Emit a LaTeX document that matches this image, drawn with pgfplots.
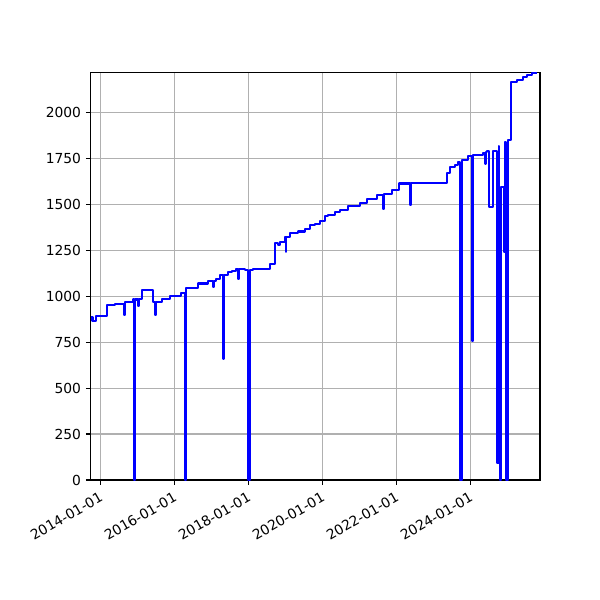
\documentclass[border=0pt]{standalone}
\usepackage{fontspec}
\setmainfont{DejaVu Sans}
\usepackage{pgfplots}
\pgfplotsset{compat=1.18}

\begin{document}
\begin{tikzpicture}
\begin{axis}[
    at={(0,0)}, anchor=south west,
    scale only axis,
    width=4.493in, height=4.077in,
    xmin=2013.74, xmax=2025.88,
    ymin=0, ymax=2218,
    xtick={2014,2016,2018,2020,2022,2024},
    xticklabels={2014-01-01,2016-01-01,2018-01-01,2020-01-01,2022-01-01,2024-01-01},
    ytick={0,250,500,750,1000,1250,1500,1750,2000},
    yticklabels={0,250,500,750,1000,1250,1500,1750,2000},
    xticklabel style={rotate=30, anchor=north east, font=\fontsize{10}{12}\selectfont},
    yticklabel style={font=\fontsize{10}{12}\selectfont},
    tick align=outside, tick pos=left,
    major tick length=3.5pt,
    every tick/.style={black, line width=0.8pt},
    axis line style={line width=0.8pt},
    grid=major,
    major grid style={color=black!31, line width=0.8pt},
    /pgf/number format/assume math mode=true,
]
\addplot[const plot mark left, color=blue, line width=1.5pt, line join=round, mark=none]
coordinates {
(2013.749,885) (2013.789,866) (2013.884,891) (2014.173,950) (2014.397,955)
(2014.649,897) (2014.668,969) (2014.876,982) (2014.911,0) (2014.946,982)
(2015.027,947) (2015.046,987) (2015.119,1036) (2015.416,969) (2015.478,897)
(2015.497,969) (2015.659,983) (2015.884,1002) (2016.181,1015) (2016.276,0)
(2016.322,1047) (2016.649,1069) (2016.919,1083) (2017.054,1051) (2017.073,1083)
(2017.127,1096) (2017.235,1114) (2017.324,661) (2017.343,1114) (2017.443,1133)
(2017.551,1136) (2017.668,1150) (2017.730,1096) (2017.749,1150) (2017.911,1141)
(2017.978,0) (2018.032,1141) (2018.135,1150) (2018.586,1174) (2018.722,1290)
(2018.811,1277) (2018.857,1293) (2018.992,1322) (2019.011,1241) (2019.027,1322)
(2019.127,1344) (2019.351,1352) (2019.532,1368) (2019.668,1386) (2019.803,1395)
(2019.938,1409) (2020.073,1435) (2020.162,1443) (2020.343,1458) (2020.478,1471)
(2020.703,1491) (2021.019,1507) (2021.200,1531) (2021.470,1549) (2021.649,1476)
(2021.668,1555) (2021.876,1580) (2022.081,1613) (2022.370,1495) (2022.389,1618)
(2023.378,1671) (2023.451,1703) (2023.586,1716) (2023.676,1730) (2023.708,0)
(2023.762,1739) (2023.946,1761) (2024.054,755) (2024.073,1770) (2024.351,1779)
(2024.397,1722) (2024.416,1784) (2024.459,1790) (2024.514,1486) (2024.622,1790)
(2024.730,90) (2024.762,1817) (2024.784,90) (2024.803,0) (2024.822,1595)
(2024.897,1240) (2024.924,1839) (2024.965,0) (2025.019,1848) (2025.100,2165)
(2025.254,2174) (2025.432,2192) (2025.524,2205) (2025.659,2214) (2025.803,2214)
};
\end{axis}
\path[use as bounding box] (-0.907in,-1.2in) rectangle (5.093in,4.8in);
\end{tikzpicture}
\end{document}
